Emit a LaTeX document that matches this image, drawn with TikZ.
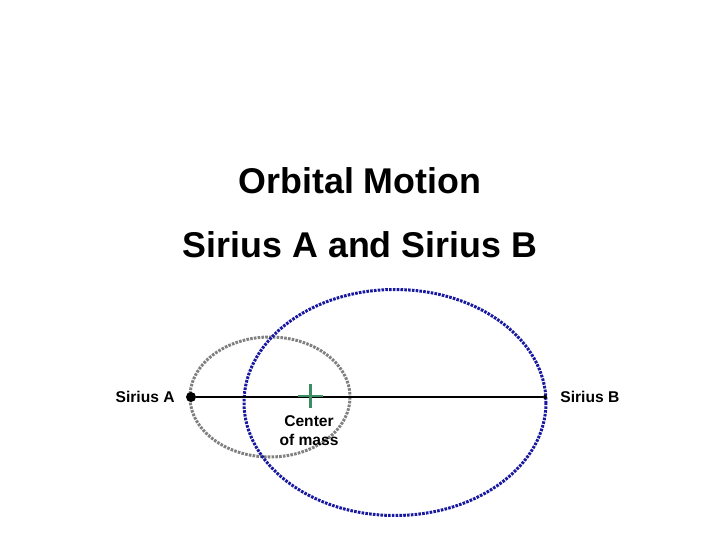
\documentclass[tikz,border=0pt]{standalone}
\usepackage{fontspec}
\setmainfont{Liberation Sans}
\usepackage{xcolor}
\usetikzlibrary{positioning}

\definecolor{orbitA}{RGB}{128,128,128}
\definecolor{orbitB}{RGB}{24,24,160}
\definecolor{cmgreen}{RGB}{60,140,100}

\tikzset{
  orbit/.style={line width=3pt,dash pattern=on 2.6pt off 1.2pt},
  starlbl/.style={font=\bfseries\fontsize{15.6}{19}\selectfont,inner sep=0pt},
  title/.style={font=\bfseries\fontsize{35.8}{40}\selectfont,inner sep=0pt}
}

\begin{document}
\begin{tikzpicture}[x=1pt,y=-1pt]
  \useasboundingbox (0,0) rectangle (720,540);
  % titles
  \node[title] (t1) at (360,181) {Orbital Motion};
  \node[title] (t2) at (360,245) {Sirius A and Sirius B};
  % orbits
  \draw[orbit,orbitA] (270,397) ellipse (80 and 60);
  \draw[orbit,orbitB] (395,402.5) ellipse (151 and 113);
  % the two stars and the line
  \node[circle,fill=black,inner sep=0pt,minimum size=10pt] (a) at (191,397) {};
  \node[circle,fill=black,inner sep=0pt,minimum size=4pt] (b) at (545,397) {};
  \draw[line width=1.5pt] (a) -- (b);
  \node[starlbl,left=11pt of a] (la) {Sirius A};
  \node[starlbl,right=13pt of b] (lb) {Sirius B};
  % center of mass
  \coordinate (cm) at (310.5,396);
  \draw[cmgreen,line width=2.5pt] ([yshift=-12pt]cm) -- ([yshift=12pt]cm);
  \draw[cmgreen,line width=2pt] ([xshift=-12.5pt]cm) -- ([xshift=12.5pt]cm);
  \node[starlbl,align=center] (lc) at (309,431) {Center\\of mass};
\end{tikzpicture}
\end{document}
